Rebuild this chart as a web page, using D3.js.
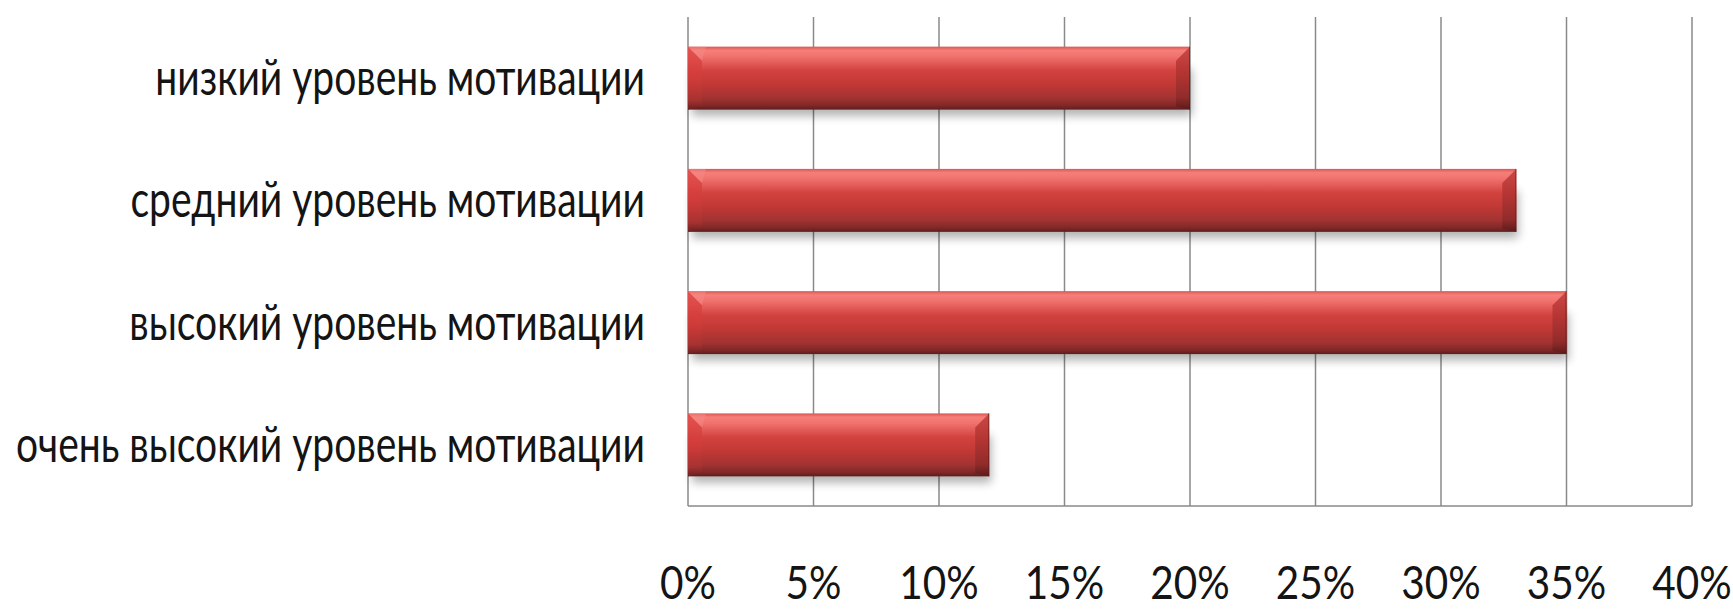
<!DOCTYPE html>
<html>
<head>
<meta charset="utf-8">
<script src="https://cdn.jsdelivr.net/npm/d3@7"></script>
<style>
  html, body { margin: 0; padding: 0; background: #ffffff; }
  svg { display: block; }
</style>
</head>
<body>
<svg id="chart" width="1733" height="609"></svg>
<script>
const categories = [
  "низкий уровень мотивации",
  "средний уровень мотивации",
  "высокий уровень мотивации",
  "очень высокий уровень мотивации"
];
const values = [20, 33, 35, 12];
const tickValues = [0, 5, 10, 15, 20, 25, 30, 35, 40];
const tickLabels = ["0%", "5%", "10%", "15%", "20%", "25%", "30%", "35%", "40%"];

const svg = d3.select("#chart");
const margin = { left: 688, right: 41, top: 17, bottom: 103 };
const W = 1733, H = 609;
const x = d3.scaleLinear().domain([0, 40]).range([margin.left, W - margin.right]);
const y = d3.scaleBand().domain(categories).range([margin.top, H - margin.bottom])
  .paddingInner(0.485).paddingOuter(0.2425);

const textScaleX = 0.78;
const tickScaleX = 0.88;
const fontFamily = "Lato, 'Open Sans', 'Noto Sans', sans-serif";

const defs = svg.append("defs");
const grad = defs.append("linearGradient").attr("id", "barGrad")
  .attr("x1", 0).attr("y1", 0).attr("x2", 0).attr("y2", 1);
[[0, "#dd5552"], [0.06, "#f57f7a"], [0.16, "#f0716d"], [0.38, "#d2423f"],
 [0.6, "#c13835"], [0.82, "#a13332"], [0.94, "#7f2727"], [1, "#5e1c1c"]]
  .forEach(([o, c]) => grad.append("stop").attr("offset", o).attr("stop-color", c));

const capGradR = defs.append("linearGradient").attr("id", "capGradR")
  .attr("x1", 0).attr("y1", 0).attr("x2", 0).attr("y2", 1);
[[0, "#c54240"], [0.4, "#b23432"], [0.8, "#8f2b2a"], [1, "#5a1a1a"]]
  .forEach(([o, c]) => capGradR.append("stop").attr("offset", o).attr("stop-color", c));

const capGradL = defs.append("linearGradient").attr("id", "capGradL")
  .attr("x1", 0).attr("y1", 0).attr("x2", 0).attr("y2", 1);
[[0, "#e04a48"], [0.5, "#d23c3a"], [0.85, "#a83231"], [1, "#6a2020"]]
  .forEach(([o, c]) => capGradL.append("stop").attr("offset", o).attr("stop-color", c));

const shadow = defs.append("filter").attr("id", "shadow")
  .attr("x", "-5%").attr("y", "-30%").attr("width", "110%").attr("height", "180%");
shadow.append("feGaussianBlur").attr("stdDeviation", 5);

// gridlines
const gridG = svg.append("g");
gridG.selectAll("line").data(tickValues).join("line")
  .attr("x1", d => x(d)).attr("x2", d => x(d))
  .attr("y1", margin.top).attr("y2", H - margin.bottom)
  .attr("stroke", "#8a8a8a").attr("stroke-width", 1.5);
// bottom axis line
svg.append("line")
  .attr("x1", x(0)).attr("x2", x(40))
  .attr("y1", H - margin.bottom).attr("y2", H - margin.bottom)
  .attr("stroke", "#8a8a8a").attr("stroke-width", 1.5);

const data = categories.map((c, i) => ({ c, v: values[i] }));
const bw = y.bandwidth();
const cap = 14;

// shadows
svg.append("g").selectAll("rect").data(data).join("rect")
  .attr("x", x(0) + 4).attr("y", d => y(d.c) + bw * 0.35)
  .attr("width", d => x(d.v) - x(0) - 2).attr("height", bw * 0.75)
  .attr("fill", "#000").attr("opacity", 0.3).attr("filter", "url(#shadow)");

const barG = svg.append("g").selectAll("g").data(data).join("g");
barG.append("rect")
  .attr("x", x(0)).attr("y", d => y(d.c))
  .attr("width", d => x(d.v) - x(0)).attr("height", bw)
  .attr("fill", "url(#barGrad)");
// left bevel
barG.append("path")
  .attr("d", d => {
    const x0 = x(0), y0 = y(d.c), y1 = y0 + bw;
    return `M${x0},${y0} L${x0 + cap},${y0 + cap} L${x0 + cap},${y1 - 3} L${x0},${y1} Z`;
  })
  .attr("fill", "url(#capGradL)").attr("opacity", 0.85);
barG.append("path")
  .attr("d", d => {
    const x0 = x(0), y0 = y(d.c);
    return `M${x0},${y0} L${x0 + cap},${y0 + cap} L${x0 + cap + 4},${y0} Z`;
  })
  .attr("fill", "#f58a86").attr("opacity", 0.5);
// right bevel
barG.append("path")
  .attr("d", d => {
    const x1 = x(d.v), y0 = y(d.c), y1 = y0 + bw;
    return `M${x1},${y0} L${x1 - cap},${y0 + cap} L${x1 - cap},${y1 - 3} L${x1},${y1} Z`;
  })
  .attr("fill", "url(#capGradR)").attr("opacity", 0.9);
barG.append("line")
  .attr("x1", d => x(d.v) - 0.5).attr("x2", d => x(d.v) - 0.5)
  .attr("y1", d => y(d.c)).attr("y2", d => y(d.c) + bw)
  .attr("stroke", "#5a1a1a").attr("stroke-width", 1).attr("opacity", 0.6);

// category labels
svg.append("g").selectAll("text").data(categories).join("text")
  .attr("transform", d => `translate(645,${y(d) + bw / 2 + 17}) scale(${textScaleX},1)`)
  .attr("text-anchor", "end")
  .attr("font-family", fontFamily)
  .attr("font-size", 50)
  .attr("fill", "#141414")
  .text(d => d);

// tick labels
svg.append("g").selectAll("text").data(tickValues).join("text")
  .attr("transform", d => `translate(${x(d)},599) scale(${tickScaleX},1)`)
  .attr("text-anchor", "middle")
  .attr("font-family", fontFamily)
  .attr("font-size", 46)
  .attr("fill", "#141414")
  .text((d, i) => tickLabels[i]);
</script>
</body>
</html>
